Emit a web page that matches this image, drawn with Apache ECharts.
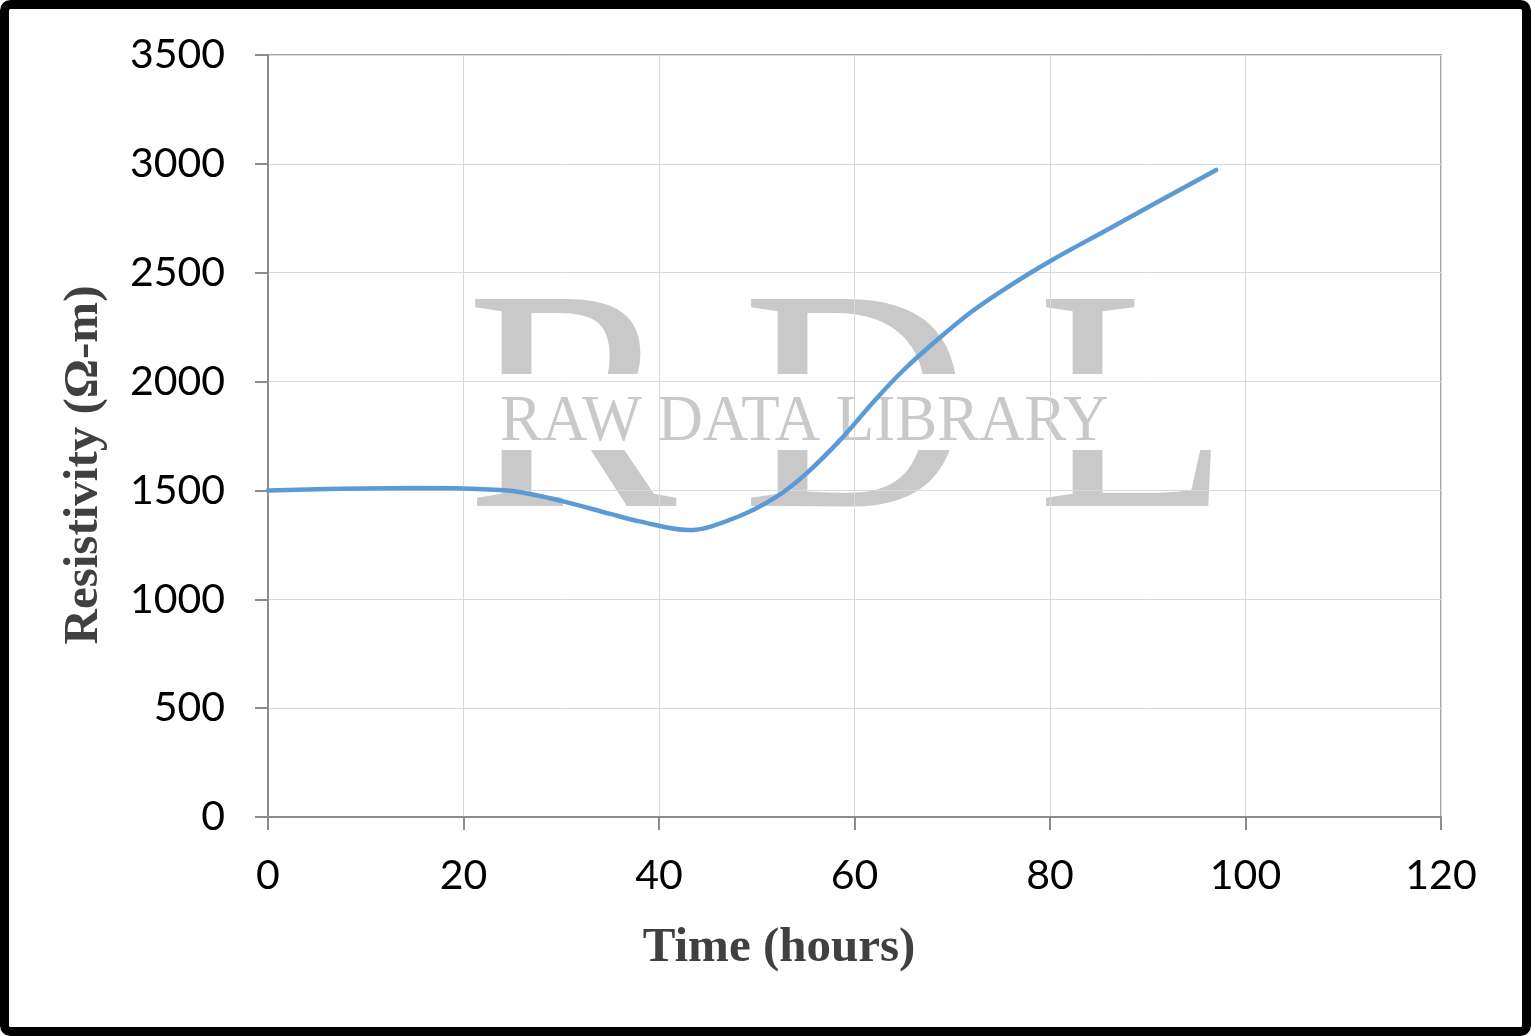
<!DOCTYPE html>
<html>
<head>
<meta charset="utf-8">
<script src="https://cdn.jsdelivr.net/npm/echarts@6/dist/echarts.min.js"></script>
<style>
html,body{margin:0;padding:0;background:#fff;}
#chart{width:1531px;height:1036px;}
</style>
</head>
<body>
<div id="chart"></div>
<script>
// Data
var timeHours = [0, 5, 10, 15, 20, 25, 30, 35, 38, 43, 48, 52, 55, 58.5, 62, 65, 68.5, 72, 75.6, 80, 86, 91, 97];
var resistivity = [1500, 1505, 1509, 1511, 1509, 1497, 1452, 1392, 1358, 1318, 1378, 1470, 1575, 1730, 1910, 2052, 2193, 2322, 2432, 2553, 2701, 2825, 2972];
var xTicks = [0, 20, 40, 60, 80, 100, 120];
var yTicks = [0, 500, 1000, 1500, 2000, 2500, 3000, 3500];
var xTitle = 'Time (hours)';
var yTitle = 'Resistivity (\u03A9-m)';

var seriesData = timeHours.map(function (t, i) { return [t, resistivity[i]]; });

var chart = echarts.init(document.getElementById('chart'), null, {renderer: 'canvas'});
var wmColor = '#c9c9c9';
var titleFont = 'bold 49px "Liberation Serif"';
var option = {
  backgroundColor: '#ffffff',
  animation: false,
  grid: {left: 268, right: 90, top: 55, bottom: 219, show: true, borderColor: '#a6a6a6', borderWidth: 2, backgroundColor: 'transparent'},
  xAxis: {
    type: 'value', min: xTicks[0], max: xTicks[xTicks.length - 1], interval: 20,
    axisLine: {show: true, lineStyle: {color: '#8c8c8c', width: 2}},
    axisTick: {show: true, length: 13, lineStyle: {color: '#8c8c8c', width: 2}},
    axisLabel: {margin: 38, fontFamily: 'Lato', fontSize: 41, color: '#000', formatter: function (v) { return String(v); }},
    splitLine: {show: true, lineStyle: {color: '#d9d9d9', width: 1}}
  },
  yAxis: {
    type: 'value', min: yTicks[0], max: yTicks[yTicks.length - 1], interval: 500,
    axisLine: {show: true, lineStyle: {color: '#8c8c8c', width: 2}},
    axisTick: {show: true, length: 13, lineStyle: {color: '#8c8c8c', width: 2}},
    axisLabel: {margin: 43, fontFamily: 'Lato', fontSize: 41, color: '#000', formatter: function (v) { return String(v); }},
    splitLine: {show: true, lineStyle: {color: '#d9d9d9', width: 1}}
  },
  graphic: [
    {type: 'text', z: -3, x: 466, y: 423, style: {text: 'R', font: '316px "Liberation Serif"', fill: wmColor, textAlign: 'left', textVerticalAlign: 'middle'}},
    {type: 'text', z: -3, x: 742, y: 423, style: {text: 'D', font: '316px "Liberation Serif"', fill: wmColor, textAlign: 'left', textVerticalAlign: 'middle'}},
    {type: 'text', z: -3, x: 1037, y: 423, style: {text: 'L', font: '316px "Liberation Serif"', fill: wmColor, textAlign: 'left', textVerticalAlign: 'middle'}},
    {type: 'rect', z: -2, shape: {x: 460, y: 374, width: 770, height: 76}, style: {fill: '#ffffff'}},
    {type: 'text', z: -1, x: 500, y: 423, scaleX: 0.953, style: {text: 'RAW DATA LIBRARY', font: '66px "Liberation Serif"', fill: wmColor, textAlign: 'left', textVerticalAlign: 'middle'}},
    {type: 'text', z: 10, x: 779, y: 948, style: {text: xTitle, font: titleFont, fill: '#404040', textAlign: 'center', textVerticalAlign: 'middle'}},
    {type: 'text', z: 10, x: 84, y: 465, rotation: Math.PI / 2, style: {text: yTitle, font: titleFont, fill: '#404040', textAlign: 'center', textVerticalAlign: 'middle'}},
    {type: 'rect', z: 100, shape: {x: 4.5, y: 4.5, width: 1522, height: 1027, r: 6}, style: {fill: 'none', stroke: '#000000', lineWidth: 9}}
  ],
  series: [{
    type: 'line', data: seriesData, smooth: 0.35, showSymbol: false, z: 5,
    lineStyle: {color: '#5b9bd5', width: 4.5, cap: 'round'}
  }]
};
chart.setOption(option);
</script>
</body>
</html>
